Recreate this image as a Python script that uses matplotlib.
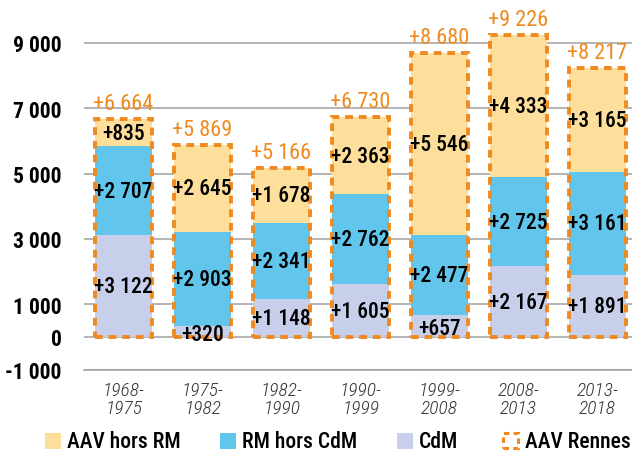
import matplotlib
matplotlib.use("Agg")
import matplotlib.pyplot as plt
from matplotlib.patches import Rectangle
from matplotlib import font_manager as fm
import numpy as np

periods = ["1968-\n1975", "1975-\n1982", "1982-\n1990", "1990-\n1999", "1999-\n2008", "2008-\n2013", "2013-\n2018"]
cdm = [3122, 320, 1148, 1605, 657, 2167, 1891]
rm_hors_cdm = [2707, 2903, 2341, 2762, 2477, 2725, 3161]
aav_hors_rm = [835, 2645, 1678, 2363, 5546, 4333, 3165]
aav_rennes = [6664, 5869, 5166, 6730, 8680, 9226, 8217]
yticks = [-1000, 0, 1000, 3000, 5000, 7000, 9000]
legend_labels = ["AAV hors RM", "RM hors CdM", "CdM", "AAV Rennes"]

names = {f.name for f in fm.fontManager.ttflist}
FONT = "DejaVu Sans"
for cand in ["Roboto Condensed", "Archivo Narrow", "Asap Condensed", "Barlow Condensed"]:
    if cand in names:
        FONT = cand
        break
plt.rcParams['font.family'] = [FONT, 'DejaVu Sans']

C_YEL = "#FDDF9B"
C_BLU = "#62C5EC"
C_LAV = "#C8CFEB"
C_ORA = "#EE8A1F"

def fmt(v):
    return "+" + f"{v:,}".replace(",", " ")

W, H = 632, 452
fig = plt.figure(figsize=(W / 100, H / 100), dpi=100)
ax = fig.add_axes([0.133, 0.18, 0.875, 0.81])
x = np.arange(len(periods))
w = 0.72

ax.bar(x, cdm, w, color=C_LAV, zorder=2)
ax.bar(x, rm_hors_cdm, w, bottom=cdm, color=C_BLU, zorder=2)
b2 = np.array(cdm) + np.array(rm_hors_cdm)
ax.bar(x, aav_hors_rm, w, bottom=b2, color=C_YEL, zorder=2)
ax.bar(x, aav_rennes, w, fill=False, edgecolor=C_ORA, linewidth=2.8,
       linestyle=(0, (2.0, 1.5)), zorder=3)

fs = 15.5
wt = "medium"
for i in range(len(x)):
    ax.text(x[i], cdm[i] / 2 - (60 if cdm[i] < 700 else 0), fmt(cdm[i]),
            ha="center", va="center", fontsize=fs, fontweight=wt, color="black", zorder=4)
    ax.text(x[i], cdm[i] + rm_hors_cdm[i] / 2, fmt(rm_hors_cdm[i]),
            ha="center", va="center", fontsize=fs, fontweight=wt, color="black", zorder=4)
    ax.text(x[i], b2[i] + aav_hors_rm[i] / 2, fmt(aav_hors_rm[i]),
            ha="center", va="center", fontsize=fs, fontweight=wt, color="black", zorder=4)
    ax.text(x[i], aav_rennes[i] + 150, fmt(aav_rennes[i]),
            ha="center", va="bottom", fontsize=16, color=C_ORA, zorder=4)

ax.set_ylim(-1000, 10200)
ax.set_xlim(-0.5, 6.5)
ax.set_yticks(yticks)
ax.set_yticklabels([f"{t:,}".replace(",", " ") for t in yticks],
                   fontsize=15.5, fontweight="bold")
ax.yaxis.grid(True, color="#A0A0A0", linewidth=1.1, zorder=0)
ax.axhline(yticks[0], color="#A0A0A0", linewidth=1.1, zorder=0, clip_on=False)
ax.set_axisbelow(True)
ax.tick_params(axis="y", length=0, pad=16)
ax.tick_params(axis="x", length=0, pad=8)
ax.set_xticks(x)
ax.set_xticklabels(periods, fontsize=14, fontstyle="italic", fontweight="light",
                   color="#333333", linespacing=1.0)
for s in ax.spines.values():
    s.set_visible(False)

# legend, placed manually in pixel positions
leg_x = [45, 220, 397, 503]
leg_colors = [C_YEL, C_BLU, C_LAV, None]
ly = 442
for px, col, lab in zip(leg_x, leg_colors, legend_labels):
    if col is not None:
        r = Rectangle((px / W, 1 - (ly + 8) / H), 16 / W, 16 / H,
                      transform=fig.transFigure, facecolor=col, edgecolor="none")
    else:
        r = Rectangle((px / W, 1 - (ly + 7) / H), 15 / W, 15 / H,
                      transform=fig.transFigure, facecolor="none", edgecolor=C_ORA,
                      linewidth=2.2, linestyle=(0, (1.8, 1.4)))
    fig.add_artist(r)
    fig.text((px + 22) / W, 1 - ly / H, lab, ha="left", va="center",
             fontsize=15.5, fontweight=wt)

fig.savefig("out.png", dpi=100)
